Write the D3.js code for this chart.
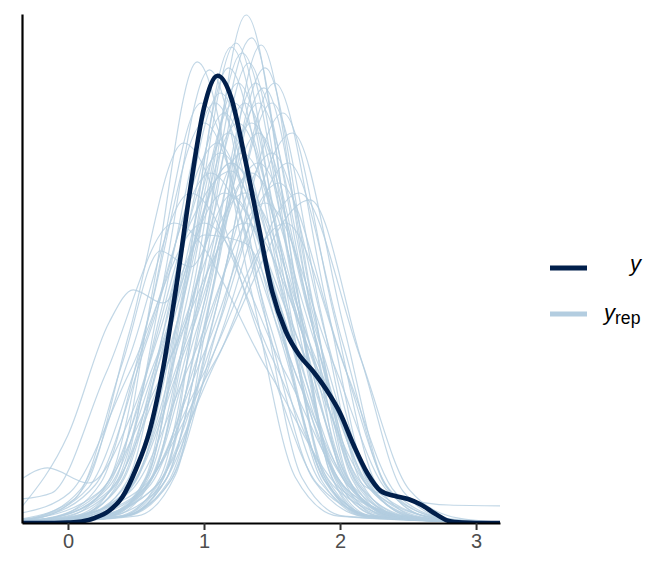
<!DOCTYPE html>
<html>
<head>
<meta charset="utf-8">
<script src="https://cdn.jsdelivr.net/npm/d3@7"></script>
<style>
  html, body { margin: 0; padding: 0; background: #ffffff; }
  svg { display: block; font-family: "Liberation Sans", Arial, sans-serif; }
</style>
</head>
<body>
<svg id="chart" width="672" height="576"></svg>
<script>
// ---------------- data ----------------
const xTicks = [0, 1, 2, 3];
const xTickLabels = ["0", "1", "2", "3"];
const seriesNames = ["y", "yrep"];

// observed y density, evaluated on a grid of x values
const yGridX = [-0.34, -0.3, -0.2, -0.1, 0.0, 0.1, 0.2, 0.3, 0.4, 0.5, 0.6, 0.7, 0.8, 0.9, 1.0, 1.1, 1.2, 1.3, 1.4, 1.5,
                1.6, 1.7, 1.8, 1.9, 2.0, 2.1, 2.2, 2.3, 2.4, 2.5, 2.6, 2.7, 2.8, 2.9, 3.0, 3.1, 3.18];
const yDensity = [0, 0, 0, 0, 0.001, 0.004, 0.013, 0.03, 0.065, 0.135, 0.23, 0.388, 0.6, 0.838, 1.038, 1.118, 1.063, 0.913, 0.745, 0.58,
                  0.48, 0.42, 0.38, 0.333, 0.275, 0.195, 0.125, 0.08, 0.068, 0.06, 0.045, 0.023, 0.005, 0.001, 0, 0, 0];

// replicated densities (yrep draws), each as [x, density] key points
const yrep01 = [[-0.34,0],[0.45,0.019],[0.72,0.127],[0.98,0.635],[1.31,1.27],[1.66,0.635],[1.94,0.127],[2.22,0.019],[3.18,0]];
const yrep02 = [[-0.34,0],[0.09,0.017],[0.36,0.115],[0.62,0.576],[0.95,1.153],[1.35,0.576],[1.67,0.115],[1.99,0.017],[3.18,0]];
const yrep03 = [[-0.34,0],[0.10,0.017],[0.39,0.113],[0.68,0.566],[1.04,1.133],[1.42,0.566],[1.72,0.113],[2.03,0.017],[3.18,0]];
const yrep04 = [[-0.34,0],[0.30,0.018],[0.59,0.12],[0.875,0.6],[1.235,1.2],[1.595,0.6],[1.88,0.12],[2.17,0.018],[3.18,0]];
const yrep05 = [[-0.34,0],[0.51,0.018],[0.79,0.12],[1.07,0.598],[1.42,1.195],[1.75,0.598],[2.01,0.12],[2.28,0.018],[3.18,0]];
const yrep06 = [[-0.34,0],[0.31,0.018],[0.63,0.121],[0.95,0.606],[1.35,1.213],[1.67,0.606],[1.93,0.121],[2.18,0.018],[3.18,0]];
const yrep07 = [[-0.34,0],[0.40,0.016],[0.72,0.109],[1.04,0.544],[1.44,1.088],[1.80,0.544],[2.09,0.109],[2.38,0.016],[3.18,0]];
const yrep08 = [[-0.34,0],[0.32,0.018],[0.59,0.119],[0.86,0.595],[1.2,1.19],[1.58,0.595],[1.88,0.119],[2.19,0.018],[3.18,0]];
const yrep09 = [[-0.34,0],[0.22,0.015],[0.66,0.098],[1.10,0.488],[1.65,0.975],[2.03,0.488],[2.33,0.098],[2.64,0.015],[3.18,0]];
const yrep10 = [[-0.34,0.003],[-0.04,0.012],[0.52,0.081],[1.08,0.404],[1.78,0.808],[2.16,0.404],[2.46,0.081],[2.77,0.012],[3.18,0.002]];
const yrep11 = [[-0.34,0],[0.26,0.016],[0.58,0.105],[0.9,0.525],[1.3,1.05],[1.72,0.525],[2.06,0.105],[2.39,0.016],[3.18,0]];
const yrep12 = [[-0.34,0],[0.06,0.015],[0.39,0.103],[0.73,0.513],[1.15,1.025],[1.55,0.513],[1.87,0.103],[2.19,0.015],[3.18,0]];
const yrep13 = [[-0.34,0],[0.08,0.015],[0.44,0.1],[0.8,0.5],[1.25,1.0],[1.7,0.5],[2.06,0.1],[2.42,0.015],[3.18,0]];
const yrep14 = [[-0.34,0.006],[-0.2,0.014],[0.2,0.095],[0.6,0.475],[1.1,0.95],[1.55,0.475],[1.91,0.095],[2.27,0.014],[3.18,0]];
const yrep15 = [[-0.34,0],[0.23,0.015],[0.59,0.098],[0.95,0.488],[1.4,0.975],[1.8,0.488],[2.12,0.098],[2.44,0.015],[3.18,0]];
const yrep16 = [[-0.34,0],[0.2,0.014],[0.6,0.093],[1.0,0.463],[1.5,0.925],[1.9,0.463],[2.22,0.093],[2.54,0.014],[3.18,0]];
const yrep17 = [[-0.34,0.004],[-0.05,0.014],[0.34,0.09],[0.72,0.45],[1.2,0.9],[1.7,0.45],[2.1,0.09],[2.5,0.014],[3.18,0]];
const yrep18 = [[-0.34,0.002],[0.05,0.013],[0.45,0.088],[0.85,0.438],[1.35,0.875],[1.83,0.438],[2.21,0.088],[2.6,0.013],[3.18,0]];
const yrep19 = [[-0.34,0.009],[-0.25,0.013],[0.15,0.088],[0.55,0.438],[1.05,0.875],[1.6,0.438],[2.04,0.088],[2.48,0.013],[3.18,0]];
const yrep20 = [[-0.34,0.001],[0.12,0.013],[0.56,0.085],[1.0,0.425],[1.55,0.85],[2.0,0.425],[2.36,0.085],[2.72,0.013],[3.18,0]];
const yrep21 = [[-0.34,0.01],[0.05,0.06],[0.4,0.4],[0.68,0.68],[0.9,0.64],[1.2,0.82],[1.55,0.55],[1.9,0.16],[2.3,0.02],[3.18,0]];
const yrep22 = [[-0.34,0.04],[0.0,0.22],[0.3,0.5],[0.48,0.583],[0.7,0.55],[1.0,0.72],[1.3,0.7],[1.7,0.35],[2.1,0.08],[2.5,0.01],[3.18,0]];
const yrep23 = [[-0.34,0.11],[-0.15,0.138],[0.15,0.1],[0.5,0.3],[0.9,0.75],[1.2,0.88],[1.55,0.55],[1.95,0.15],[2.4,0.015],[3.18,0]];
const yrep24 = [[-0.34,0.025],[0.01,0.075],[0.45,0.375],[1.0,0.75],[1.6,0.375],[2.08,0.075],[2.56,0.011],[3.18,0]];
const yrep25 = [[-0.34,0.008],[-0.26,0.011],[0.22,0.075],[0.7,0.375],[1.3,0.75],[1.85,0.375],[2.29,0.075],[2.73,0.011],[3.18,0]];
const yrep26 = [[-0.34,0.001],[0.04,0.011],[0.52,0.075],[1.0,0.375],[1.6,0.75],[2.05,0.375],[2.41,0.075],[2.77,0.011],[3.18,0]];
const yrep27 = [[-0.34,0.006],[-0.15,0.012],[0.25,0.083],[0.65,0.413],[1.15,0.825],[1.75,0.413],[2.23,0.083],[2.71,0.012],[3.18,0]];
const yrep28 = [[-0.34,0.001],[0.02,0.012],[0.46,0.08],[0.9,0.4],[1.45,0.8],[1.95,0.4],[2.35,0.08],[2.75,0.012],[3.18,0]];
const yrep29 = [[-0.34,0.009],[-0.27,0.012],[0.09,0.083],[0.45,0.413],[0.9,0.825],[1.5,0.413],[1.98,0.083],[2.46,0.012],[3.18,0]];
const yrep30 = [[-0.34,0],[0.26,0.017],[0.57,0.11],[0.87,0.55],[1.25,1.1],[1.65,0.55],[1.97,0.11],[2.29,0.017],[3.18,0]];
const yrep31 = [[-0.34,0],[0.13,0.016],[0.44,0.108],[0.74,0.538],[1.12,1.075],[1.54,0.538],[1.88,0.108],[2.21,0.016],[3.18,0]];
const yrep32 = [[-0.34,0],[0.39,0.017],[0.7,0.11],[1.0,0.55],[1.38,1.1],[1.76,0.55],[2.06,0.11],[2.37,0.017],[3.18,0]];
const yrep33 = [[-0.34,0],[0.41,0.016],[0.74,0.105],[1.08,0.525],[1.5,1.05],[1.86,0.525],[2.15,0.105],[2.44,0.016],[3.18,0]];
const yrep34 = [[-0.34,0],[0.11,0.014],[0.47,0.093],[0.83,0.463],[1.28,0.925],[1.76,0.463],[2.14,0.093],[2.53,0.014],[3.18,0]];
const yrep35 = [[-0.34,0.005],[-0.1,0.014],[0.3,0.09],[0.7,0.45],[1.2,0.9],[1.75,0.45],[2.19,0.09],[2.5,0.058],[2.8,0.045],[3.18,0.043]];
const yrep36 = [[-0.34,0],[0.14,0.012],[0.62,0.083],[1.1,0.413],[1.7,0.825],[2.15,0.413],[2.51,0.083],[2.87,0.012],[3.18,0.002]];
const yrep37 = [[-0.34,0.007],[-0.19,0.014],[0.13,0.095],[0.45,0.475],[0.85,0.95],[1.4,0.475],[1.84,0.095],[2.28,0.014],[3.18,0]];
const yrep38 = [[-0.34,0.004],[-0.09,0.015],[0.24,0.1],[0.58,0.5],[1.0,1.0],[1.48,0.5],[1.86,0.1],[2.25,0.015],[3.18,0]];
const yrep39 = [[-0.34,0],[0.39,0.017],[0.68,0.115],[0.97,0.575],[1.33,1.15],[1.67,0.575],[1.94,0.115],[2.21,0.017],[3.18,0]];
const yrep40 = [[-0.34,0],[0.3,0.017],[0.57,0.114],[0.84,0.569],[1.18,1.138],[1.58,0.569],[1.9,0.114],[2.22,0.017],[3.18,0]];
const yrep41 = [[-0.34,0],[0.26,0.015],[0.59,0.1],[0.93,0.5],[1.35,1.0],[1.79,0.5],[2.14,0.1],[2.49,0.015],[3.18,0]];
const yrep42 = [[-0.34,0],[0.18,0.016],[0.5,0.105],[0.82,0.525],[1.22,1.05],[1.68,0.525],[2.05,0.105],[2.42,0.016],[3.18,0]];
const yrep43 = [[-0.34,0],[0.38,0.015],[0.75,0.103],[1.12,0.513],[1.58,1.025],[1.96,0.513],[2.26,0.103],[2.57,0.015],[3.18,0]];
const yrep44 = [[-0.34,0.001],[0.04,0.016],[0.36,0.105],[0.68,0.525],[1.08,1.05],[1.53,0.525],[1.89,0.105],[2.25,0.016],[3.18,0]];
const yrep45 = [[-0.34,0],[0.41,0.017],[0.73,0.114],[1.05,0.569],[1.45,1.138],[1.79,0.569],[2.06,0.114],[2.33,0.017],[3.18,0]];
const yrep46 = [[-0.34,0],[0.34,0.018],[0.63,0.118],[0.92,0.588],[1.28,1.175],[1.66,0.588],[1.96,0.118],[2.27,0.018],[3.18,0]];
const yrep47 = [[-0.34,0.001],[0.05,0.014],[0.46,0.09],[0.88,0.45],[1.4,0.9],[1.85,0.45],[2.21,0.09],[2.57,0.014],[3.18,0]];
const yrep48 = [[-0.34,0.004],[-0.08,0.014],[0.29,0.093],[0.66,0.463],[1.12,0.925],[1.64,0.463],[2.06,0.093],[2.47,0.014],[3.18,0]];
const yrep49 = [[-0.34,0],[0.27,0.014],[0.68,0.09],[1.1,0.45],[1.62,0.9],[2.02,0.45],[2.34,0.09],[2.66,0.014],[3.18,0]];
const yrep50 = [[-0.34,0.005],[-0.13,0.012],[0.31,0.083],[0.75,0.413],[1.3,0.825],[1.82,0.413],[2.24,0.083],[2.65,0.012],[3.18,0]];
const yrep51 = [[-0.34,0.003],[0.0,0.016],[0.3,0.105],[0.6,0.525],[0.98,1.05],[1.44,0.525],[1.81,0.105],[2.18,0.016],[3.18,0]];
const yrep52 = [[-0.34,0],[0.43,0.017],[0.76,0.11],[1.1,0.55],[1.52,1.1],[1.9,0.55],[2.2,0.11],[2.51,0.017],[3.18,0]];
const yrep53 = [[-0.34,0.001],[0.04,0.015],[0.39,0.098],[0.74,0.488],[1.18,0.975],[1.64,0.488],[2.01,0.098],[2.38,0.015],[3.18,0]];
const yrep54 = [[-0.34,0],[0.36,0.016],[0.68,0.105],[1.0,0.525],[1.4,1.05],[1.8,0.525],[2.12,0.105],[2.44,0.016],[3.18,0]];
const yrep55 = [[-0.34,0.06],[-0.12,0.075],[0.28,0.375],[0.78,0.75],[1.48,0.375],[2.04,0.075],[2.6,0.011],[3.18,0]];

const yrepCurves = [yrep01, yrep02, yrep03, yrep04, yrep05, yrep06, yrep07, yrep08, yrep09, yrep10,
                    yrep11, yrep12, yrep13, yrep14, yrep15, yrep16, yrep17, yrep18, yrep19, yrep20,
                    yrep21, yrep22, yrep23, yrep24, yrep25, yrep26, yrep27, yrep28, yrep29, yrep30,
                    yrep31, yrep32, yrep33, yrep34, yrep35, yrep36, yrep37, yrep38, yrep39, yrep40,
                    yrep41, yrep42, yrep43, yrep44, yrep45, yrep46, yrep47, yrep48, yrep49, yrep50,
                    yrep51, yrep52, yrep53, yrep54, yrep55];

// ---------------- layout ----------------
const svg = d3.select("#chart");
const panel = { left: 22, right: 500, top: 14, bottom: 523 };
const colDark = "#011f4b";
const colLight = "#b3cde0";

const x = d3.scaleLinear().domain([-0.338, 3.176]).range([panel.left, panel.right]);
const y = d3.scaleLinear().domain([0, 1.2725]).range([panel.bottom, panel.top]);

svg.append("defs").append("clipPath").attr("id", "clip")
  .append("rect")
  .attr("x", panel.left).attr("y", panel.top - 2)
  .attr("width", panel.right - panel.left).attr("height", panel.bottom - panel.top + 2);

const line = d3.line()
  .x(d => x(d[0]))
  .y(d => y(d[1]))
  .curve(d3.curveMonotoneX);

const g = svg.append("g").attr("clip-path", "url(#clip)");

g.selectAll("path.yrep")
  .data(yrepCurves)
  .join("path")
  .attr("class", "yrep")
  .attr("d", line)
  .attr("fill", "none")
  .attr("stroke", colLight)
  .attr("stroke-opacity", 0.8)
  .attr("stroke-width", 1.2);

const yPoints = yGridX.map((v, i) => [v, yDensity[i]]);
g.append("path")
  .datum(yPoints)
  .attr("d", line)
  .attr("fill", "none")
  .attr("stroke", colDark)
  .attr("stroke-width", 4.6)
  .attr("stroke-linejoin", "round")
  .attr("stroke-linecap", "round");

// ---------------- axes ----------------
const xAxis = d3.axisBottom(x)
  .tickValues(xTicks)
  .tickFormat((d, i) => xTickLabels[i])
  .tickSizeInner(7)
  .tickSizeOuter(0)
  .tickPadding(4);

const gx = svg.append("g")
  .attr("transform", `translate(0,${panel.bottom})`)
  .call(xAxis);
gx.select(".domain").attr("stroke", "#000").attr("stroke-width", 2.2);
gx.selectAll(".tick line").attr("stroke", "#333").attr("stroke-width", 2);
gx.selectAll(".tick text")
  .attr("fill", "#4d4d4d")
  .attr("font-size", 20)
  .attr("font-family", "Liberation Sans, Arial, sans-serif");

const yAxis = d3.axisLeft(y).tickValues([]).tickSizeOuter(0);
const gy = svg.append("g")
  .attr("transform", `translate(${panel.left},0)`)
  .call(yAxis);
gy.select(".domain").attr("stroke", "#000").attr("stroke-width", 2.2);

// ---------------- legend ----------------
const lg = svg.append("g");
lg.append("line")
  .attr("x1", 550).attr("x2", 587).attr("y1", 268).attr("y2", 268)
  .attr("stroke", colDark).attr("stroke-width", 5);
lg.append("line")
  .attr("x1", 550).attr("x2", 587).attr("y1", 314).attr("y2", 314)
  .attr("stroke", colLight).attr("stroke-width", 5);

lg.append("text")
  .attr("x", 641).attr("y", 271)
  .attr("text-anchor", "end")
  .attr("font-size", 22)
  .attr("font-style", "italic")
  .attr("fill", "#000")
  .text(seriesNames[0]);

const t2 = lg.append("text")
  .attr("x", 604).attr("y", 320)
  .attr("fill", "#000");
t2.append("tspan")
  .attr("font-size", 22)
  .attr("font-style", "italic")
  .text("y");
t2.append("tspan")
  .attr("font-size", 17.6)
  .attr("dy", 4)
  .text("rep");
</script>
</body>
</html>
